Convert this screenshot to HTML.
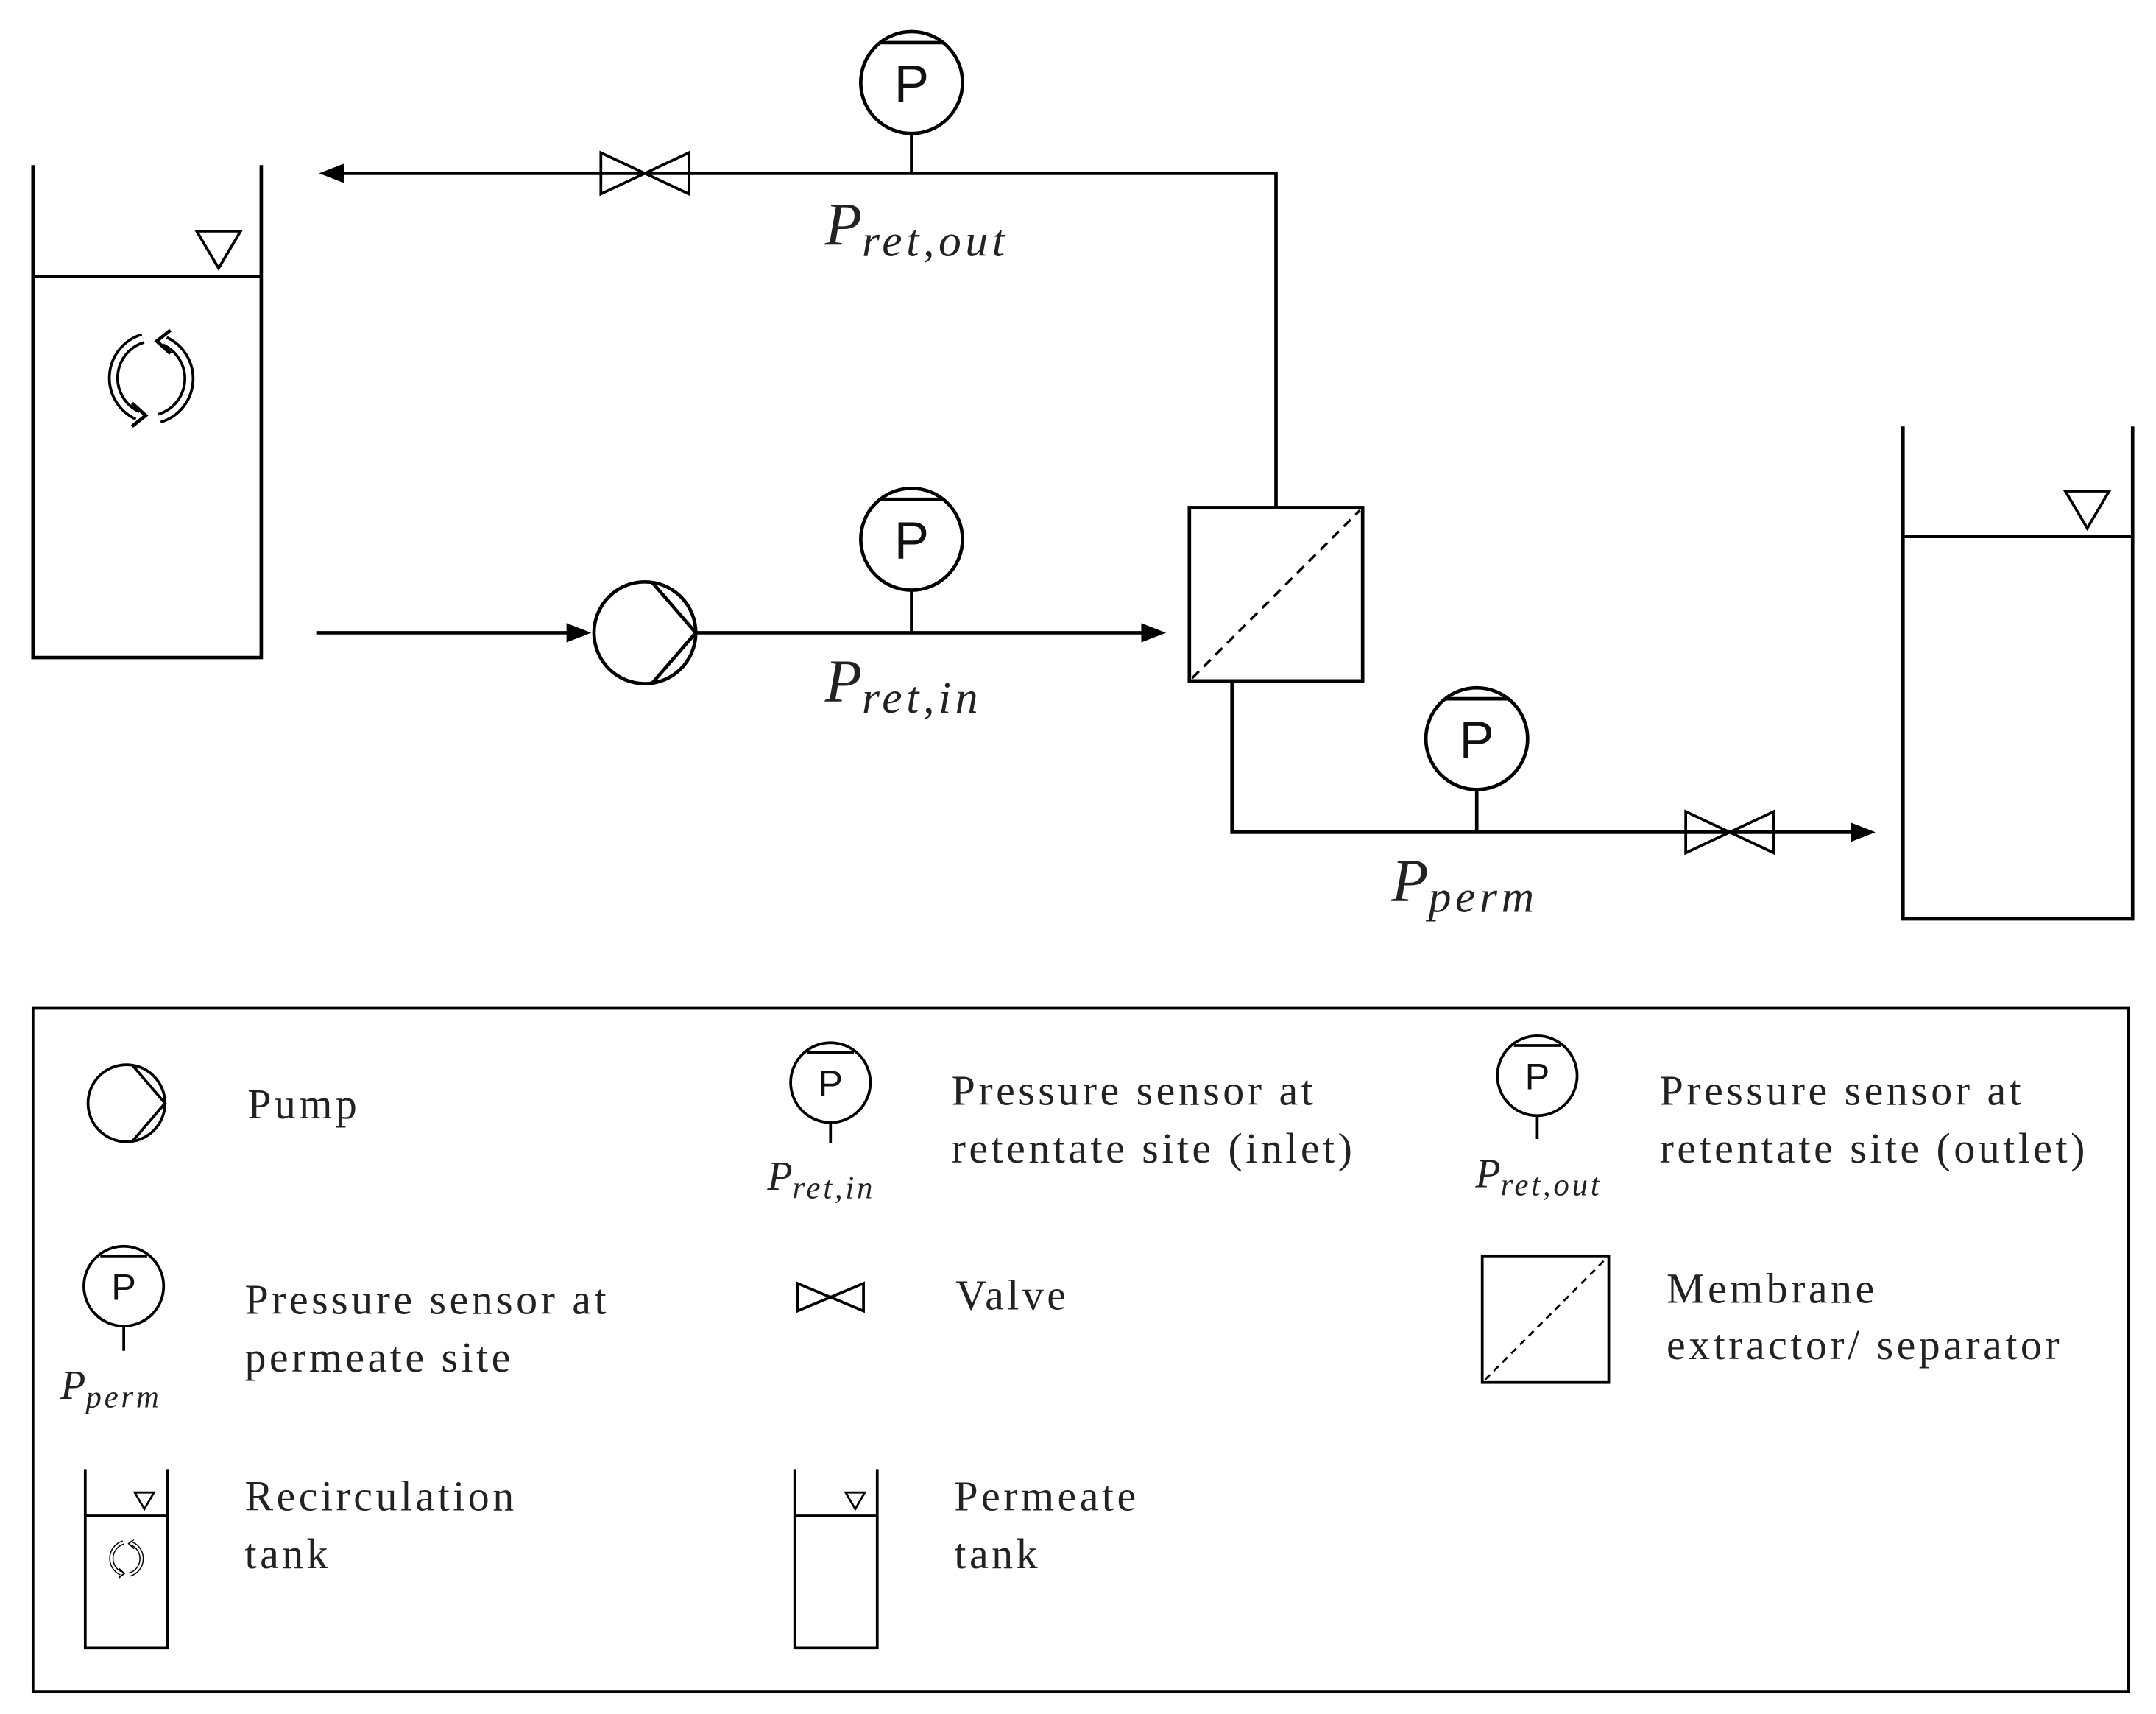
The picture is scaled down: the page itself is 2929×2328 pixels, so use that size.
<!DOCTYPE html>
<html><head><meta charset="utf-8"><style>
html,body{margin:0;padding:0;background:#fff;}
svg{display:block}
.sf{font-family:"Liberation Serif",serif;fill:#222}
.ss{font-family:"Liberation Sans",sans-serif;fill:#111}
.it{font-style:italic}
</style></head><body>
<svg width="2929" height="2328" viewBox="0 0 1568 1246" preserveAspectRatio="none" xmlns="http://www.w3.org/2000/svg">
<defs>
<g id="recirc">
<path d="M-6,-29 A30,30 0 0 0 -10,27" fill="none" stroke="#000" stroke-width="8"/>
<path d="M-6,-29 A30,30 0 0 0 -10,27" fill="none" stroke="#fff" stroke-width="4"/>
<path d="M6,29 A30,30 0 0 0 10,-27" fill="none" stroke="#000" stroke-width="8"/>
<path d="M6,29 A30,30 0 0 0 10,-27" fill="none" stroke="#fff" stroke-width="4"/>
<path d="M-14,18 L-4,27 L-14,35" fill="none" stroke="#000" stroke-width="2.5"/>
<path d="M14,-18 L4,-27 L14,-35" fill="none" stroke="#000" stroke-width="2.5"/>
</g>
</defs>
<g stroke="#000" stroke-width="2.5" fill="none">
<path d="M24,120 V478 H190 V120"/>
<line x1="24" y1="201" x2="190" y2="201"/>
<path d="M143,168 H175 L159,195 Z" stroke-width="2"/>
<path d="M1384,310 V668 H1551 V310"/>
<line x1="1384" y1="390" x2="1551" y2="390"/>
<path d="M1502,357 H1534 L1518,384 Z" stroke-width="2"/>
<polyline points="928,370 928,126 240,126"/>
<path d="M232,126 L250,119 L250,133 Z" fill="#000" stroke="none"/>
<path d="M437,111 L501,141 L501,111 L437,141 Z" stroke-width="2"/>
<circle cx="663" cy="60" r="37"/>
<line x1="640" y1="31" x2="686" y2="31"/>
<line x1="663" y1="97" x2="663" y2="126"/>
<line x1="230" y1="460" x2="415" y2="460"/>
<path d="M430,460 L412,453 L412,467 Z" fill="#000" stroke="none"/>
<circle cx="469" cy="460" r="37"/>
<path d="M474,423 L506,460 L474,497"/>
<line x1="506" y1="460" x2="832" y2="460"/>
<path d="M848,460 L830,453 L830,467 Z" fill="#000" stroke="none"/>
<circle cx="663" cy="392" r="37"/>
<line x1="640" y1="363" x2="686" y2="363"/>
<line x1="663" y1="429" x2="663" y2="460"/>
<rect x="865" y="369" width="126" height="126"/>
<line x1="867" y1="493" x2="989" y2="371" stroke-dasharray="7,5" stroke-width="1.8"/>
<polyline points="896,495 896,605 1348,605"/>
<path d="M1364,605 L1346,598 L1346,612 Z" fill="#000" stroke="none"/>
<circle cx="1074" cy="537" r="37"/>
<line x1="1051" y1="508" x2="1097" y2="508"/>
<line x1="1074" y1="574" x2="1074" y2="605"/>
<path d="M1226,590 L1290,620 L1290,590 L1226,620 Z" stroke-width="2"/>
<rect x="24" y="733" width="1524" height="497" stroke-width="2"/>
<circle cx="92" cy="802" r="28" stroke-width="2"/>
<path d="M96,774 L120,802 L96,830" stroke-width="2"/>
<circle cx="604" cy="787" r="29" stroke-width="2"/>
<line x1="587" y1="765" x2="621" y2="765" stroke-width="2"/>
<line x1="604" y1="816" x2="604" y2="831" stroke-width="2"/>
<circle cx="1118" cy="782" r="29" stroke-width="2"/>
<line x1="1101" y1="760" x2="1135" y2="760" stroke-width="2"/>
<line x1="1118" y1="811" x2="1118" y2="828" stroke-width="2"/>
<circle cx="90" cy="935" r="29" stroke-width="2"/>
<line x1="73" y1="913" x2="107" y2="913" stroke-width="2"/>
<line x1="90" y1="964" x2="90" y2="982" stroke-width="2"/>
<path d="M580,933 L628,953 L628,933 L580,953 Z" stroke-width="2"/>
<rect x="1078" y="913" width="92" height="92" stroke-width="2"/>
<line x1="1080" y1="1003" x2="1168" y2="915" stroke-dasharray="5,4" stroke-width="1.5"/>
<path d="M62,1068 V1198 H122 V1068" stroke-width="2"/>
<line x1="62" y1="1102" x2="122" y2="1102" stroke-width="2"/>
<path d="M98,1085 H112 L105,1097 Z" stroke-width="1.5"/>
<path d="M578,1068 V1198 H638 V1068" stroke-width="2"/>
<line x1="578" y1="1102" x2="638" y2="1102" stroke-width="2"/>
<path d="M615,1085 H629 L622,1097 Z" stroke-width="1.5"/>
</g>
<use href="#recirc" transform="translate(110,275)"/>
<use href="#recirc" transform="translate(92,1133) scale(0.4)"/>
<g class="ss" font-size="38" text-anchor="middle">
<text class="ss" x="663" y="74">P</text><text class="ss" x="663" y="406">P</text><text class="ss" x="1074" y="551">P</text>
<text class="ss" x="604" y="797" font-size="27">P</text><text class="ss" x="1118" y="792" font-size="27">P</text><text class="ss" x="90" y="945" font-size="27">P</text>
</g>
<text class="sf it" x="600" y="178" font-size="44">P<tspan font-size="33" dy="8" letter-spacing="3">ret,out</tspan></text>
<text class="sf it" x="600" y="510" font-size="44">P<tspan font-size="33" dy="8" letter-spacing="3">ret,in</tspan></text>
<text class="sf it" x="1012" y="655" font-size="44">P<tspan font-size="33" dy="8" letter-spacing="3">perm</tspan></text>
<text class="sf it" x="558" y="865" font-size="30">P<tspan font-size="23" dy="6" letter-spacing="2">ret,in</tspan></text>
<text class="sf it" x="1073" y="863" font-size="30">P<tspan font-size="23" dy="6" letter-spacing="2">ret,out</tspan></text>
<text class="sf it" x="44" y="1017" font-size="30">P<tspan font-size="23" dy="6" letter-spacing="2">perm</tspan></text>
<g class="sf" font-size="31" letter-spacing="2.4">
<text class="sf" x="180" y="813">Pump</text>
<text class="sf" x="692" y="803">Pressure sensor at</text><text class="sf" x="692" y="845">retentate site (inlet)</text>
<text class="sf" x="1207" y="803">Pressure sensor at</text><text class="sf" x="1207" y="845">retentate site (outlet)</text>
<text class="sf" x="178" y="955">Pressure sensor at</text><text class="sf" x="178" y="997">permeate site</text>
<text class="sf" x="695" y="952">Valve</text>
<text class="sf" x="1212" y="947">Membrane</text><text class="sf" x="1212" y="988">extractor/ separator</text>
<text class="sf" x="178" y="1098">Recirculation</text><text class="sf" x="178" y="1140">tank</text>
<text class="sf" x="694" y="1098">Permeate</text><text class="sf" x="694" y="1140">tank</text>
</g>
</svg>
</body></html>
